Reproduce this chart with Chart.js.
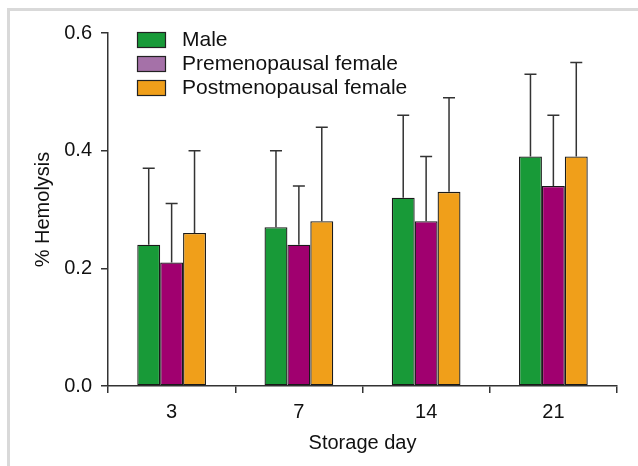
<!DOCTYPE html>
<html>
<head>
<meta charset="utf-8">
<script src="https://cdn.jsdelivr.net/npm/chart.js@4.4.0/dist/chart.umd.min.js"></script>
<style>
  html, body { margin: 0; padding: 0; background: #fff; }
  #frame { position: absolute; left: 7px; top: 8px; width: 640px; height: 470px;
           border-top: 3px solid #d9d9d9; border-left: 3px solid #d9d9d9; }
  #wrap { position: absolute; left: 0; top: 0; width: 638px; height: 466px; }
</style>
</head>
<body>
<div id="frame"></div>
<div id="wrap"><canvas id="chartHemo" width="638" height="466"></canvas></div>
<script>
// dati
const days = ['3', '7', '14', '21'];
const seriesNames = ['Male', 'Premenopausal female', 'Postmenopausal female'];
const male = [0.24, 0.27, 0.32, 0.39];
const premeno = [0.21, 0.24, 0.28, 0.34];
const postmeno = [0.26, 0.28, 0.33, 0.39];
// limite superiore barre di errore
const maleErr = [0.37, 0.40, 0.46, 0.53];
const premenoErr = [0.31, 0.34, 0.39, 0.46];
const postmenoErr = [0.40, 0.44, 0.49, 0.55];

const barColors = ['#189a38', '#a0006f', '#f09f1a'];
const legendColors = ['#189a38', '#a571a8', '#f09f1a'];
const fontFam = '"Liberation Sans", Arial, sans-serif';

// barre di errore
const errorBars = {
    id: 'errorBars',
    afterDatasetsDraw(chart) {
        const c = chart.ctx;
        const y = chart.scales.y;
        c.save();
        c.strokeStyle = '#333';
        c.lineWidth = 1.5;
        chart.data.datasets.forEach((ds, i) => {
            const meta = chart.getDatasetMeta(i);
            meta.data.forEach((bar, j) => {
                const top = y.getPixelForValue(ds.errUp[j]);
                const base = y.getPixelForValue(ds.data[j]);
                c.beginPath();
                c.moveTo(bar.x, base);
                c.lineTo(bar.x, top);
                c.moveTo(bar.x - 6, top);
                c.lineTo(bar.x + 6, top);
                c.stroke();
            });
        });
        c.restore();
    }
};

// legenda dentro l'area
const insideLegend = {
    id: 'insideLegend',
    afterDraw(chart) {
        const c = chart.ctx;
        const a = chart.chartArea;
        c.save();
        c.font = '21px ' + fontFam;
        c.textBaseline = 'middle';
        seriesNames.forEach((name, i) => {
            const bx = a.left + 29;
            const by = a.top - 1 + i * 24;
            c.fillStyle = legendColors[i];
            c.fillRect(bx, by, 28, 15);
            c.strokeStyle = '#222';
            c.lineWidth = 1.2;
            c.strokeRect(bx + 0.5, by + 0.5, 28, 15);
            c.fillStyle = '#111';
            c.fillText(name, bx + 45, by + 8);
        });
        c.restore();
    }
};

const ctx = document.getElementById('chartHemo').getContext('2d');

const dataHemo = {
    labels: days,
    datasets: [
        { label: seriesNames[0], data: male, errUp: maleErr, backgroundColor: barColors[0] },
        { label: seriesNames[1], data: premeno, errUp: premenoErr, backgroundColor: barColors[1] },
        { label: seriesNames[2], data: postmeno, errUp: postmenoErr, backgroundColor: barColors[2] }
    ].map(d => Object.assign(d, {
        borderColor: '#1a1a1a',
        borderWidth: 1.3,
        borderSkipped: false,
        categoryPercentage: 0.54,
        barPercentage: 1
    }))
};

const configHemo = {
    type: 'bar',
    data: dataHemo,
    options: {
        responsive: false,
        animation: false,
        layout: { padding: { left: 0, top: 33, right: 21, bottom: 0 } },
        plugins: {
            legend: { display: false },
            tooltip: { enabled: false }
        },
        scales: {
            x: {
                afterFit: s => { s.height = 80; },
                grid: { display: true, drawOnChartArea: false, drawTicks: true, tickLength: 7, color: '#333', lineWidth: 1.5, offset: true },
                border: { display: true, color: '#333', width: 1.5 },
                ticks: { color: '#111', padding: 7, font: { family: fontFam, size: 20 } },
                title: { display: true, text: 'Storage day', color: '#111', padding: { top: 4, bottom: 11 }, font: { family: fontFam, size: 20 } }
            },
            y: {
                min: 0,
                max: 0.6,
                afterFit: s => { s.width = 108; },
                grid: { display: true, drawOnChartArea: false, drawTicks: true, tickLength: 7, color: '#333', lineWidth: 1.5 },
                border: { display: true, color: '#333', width: 1.5 },
                ticks: {
                    stepSize: 0.2,
                    color: '#111',
                    padding: 9,
                    font: { family: fontFam, size: 20 },
                    callback: v => v.toFixed(1)
                },
                title: { display: true, text: '% Hemolysis', color: '#111', padding: { top: 31, bottom: 0 }, font: { family: fontFam, size: 20 } }
            }
        }
    },
    plugins: [errorBars, insideLegend]
};

const chartHemo = new Chart(ctx, configHemo);
</script>
</body>
</html>
